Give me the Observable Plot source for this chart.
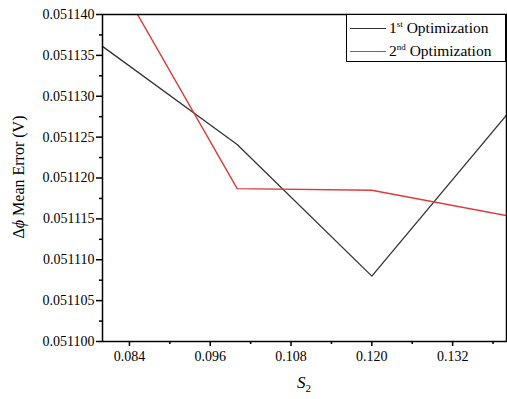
<!DOCTYPE html>
<html>
<head>
<meta charset="utf-8">
<script src="https://cdn.jsdelivr.net/npm/d3@7"></script>
<script src="https://cdn.jsdelivr.net/npm/@observablehq/plot@0.6"></script>
<style>
  html, body { margin: 0; padding: 0; background: #fff; }
  #wrap { position: relative; width: 507px; height: 399px; font-family: "Liberation Serif", "Times New Roman", Times, "DejaVu Serif", serif; }
  #chart svg, #chart svg text { font-family: "Liberation Serif", "Times New Roman", Times, "DejaVu Serif", serif !important; }
  #legend { position: absolute; left: 346px; top: 14px; width: 160px; height: 48px; box-sizing: border-box;
            border: 1.5px solid #000; background: #fff; font-size: 15.5px; color: #000; }
  .row { position: absolute; left: 3px; display: flex; align-items: center; white-space: nowrap; }
  .sw { width: 36px; height: 0; margin-right: 3px; }
  sup { font-size: 9px; vertical-align: 6px; line-height: 0; }
</style>
</head>
<body>
<div id="wrap">
  <div id="chart"></div>
  <div id="legend">
    <div class="row" style="top:4px"><span class="sw" style="border-top:1.3px solid #333"></span><span>1<sup>st</sup> Optimization</span></div>
    <div class="row" style="top:27px"><span class="sw" style="border-top:1.5px solid #dd3b3b"></span><span>2<sup>nd</sup> Optimization</span></div>
  </div>
</div>
<script>
const s2 = [0.080, 0.100, 0.120, 0.140];
const firstOpt = [0.0511361, 0.0511241, 0.0511080, 0.0511277];
const secondOpt = [0.0511475, 0.0511187, 0.0511185, 0.0511154];
const xTicks = [0.084, 0.096, 0.108, 0.120, 0.132];
const xMinorTicks = [0.090, 0.102, 0.114, 0.126, 0.138];
const yTicks = [0.051100, 0.051105, 0.051110, 0.051115, 0.051120, 0.051125, 0.051130, 0.051135, 0.051140];
const yMinorTicks = [0.0511025, 0.0511075, 0.0511125, 0.0511175, 0.0511225, 0.0511275, 0.0511325, 0.0511375];

const d1 = s2.map((x, i) => ({x, y: firstOpt[i]}));
const d2 = s2.map((x, i) => ({x, y: secondOpt[i]}));

const serif = "'Liberation Serif', 'Times New Roman', Times, 'DejaVu Serif', serif";

const chart = Plot.plot({
  width: 507, height: 399,
  marginLeft: 102, marginTop: 14, marginRight: 1, marginBottom: 58,
  x: {domain: [0.080, 0.140]},
  y: {domain: [0.051100, 0.051140]},
  style: {fontFamily: serif, fontSize: "14px", color: "#000", background: "#fff"},
  marks: [
    Plot.line(d1, {x: "x", y: "y", stroke: "#333", strokeWidth: 1.3, clip: true}),
    Plot.line(d2, {x: "x", y: "y", stroke: "#dd3b3b", strokeWidth: 1.4, clip: true}),
    Plot.axisX({ticks: xTicks, tickFormat: d3.format(".3f"), tickSize: 5, tickPadding: 5, label: null, stroke: "#000", strokeWidth: 1.5, fontSize: 14}),
    Plot.axisX({ticks: xMinorTicks, tickFormat: () => "", tickSize: 3, label: null, stroke: "#000", strokeWidth: 1.5}),
    Plot.axisY({ticks: yTicks, tickFormat: d3.format(".6f"), tickSize: 6, tickPadding: 2, label: null, stroke: "#000", strokeWidth: 1.5, fontSize: 14}),
    Plot.axisY({ticks: yMinorTicks, tickFormat: () => "", tickSize: 3, label: null, stroke: "#000", strokeWidth: 1.5}),
    Plot.frame({stroke: "#000", strokeWidth: 1.5})
  ]
});
document.getElementById("chart").appendChild(chart);

const svg = d3.select(chart);
const yl = svg.append("text")
  .attr("transform", "translate(24,177) rotate(-90)")
  .attr("text-anchor", "middle")
  .attr("font-family", serif)
  .attr("font-size", 16)
  .attr("fill", "#000");
yl.append("tspan").text("Δ");
yl.append("tspan").attr("font-style", "italic").text("ϕ");
yl.append("tspan").text(" Mean Error (V)");

const xl = svg.append("text")
  .attr("x", 304).attr("y", 388)
  .attr("text-anchor", "middle")
  .attr("font-family", serif)
  .attr("font-size", 17)
  .attr("fill", "#000");
xl.append("tspan").attr("font-style", "italic").text("S");
xl.append("tspan").attr("font-size", 11).attr("dy", 4).text("2");
</script>
</body>
</html>
